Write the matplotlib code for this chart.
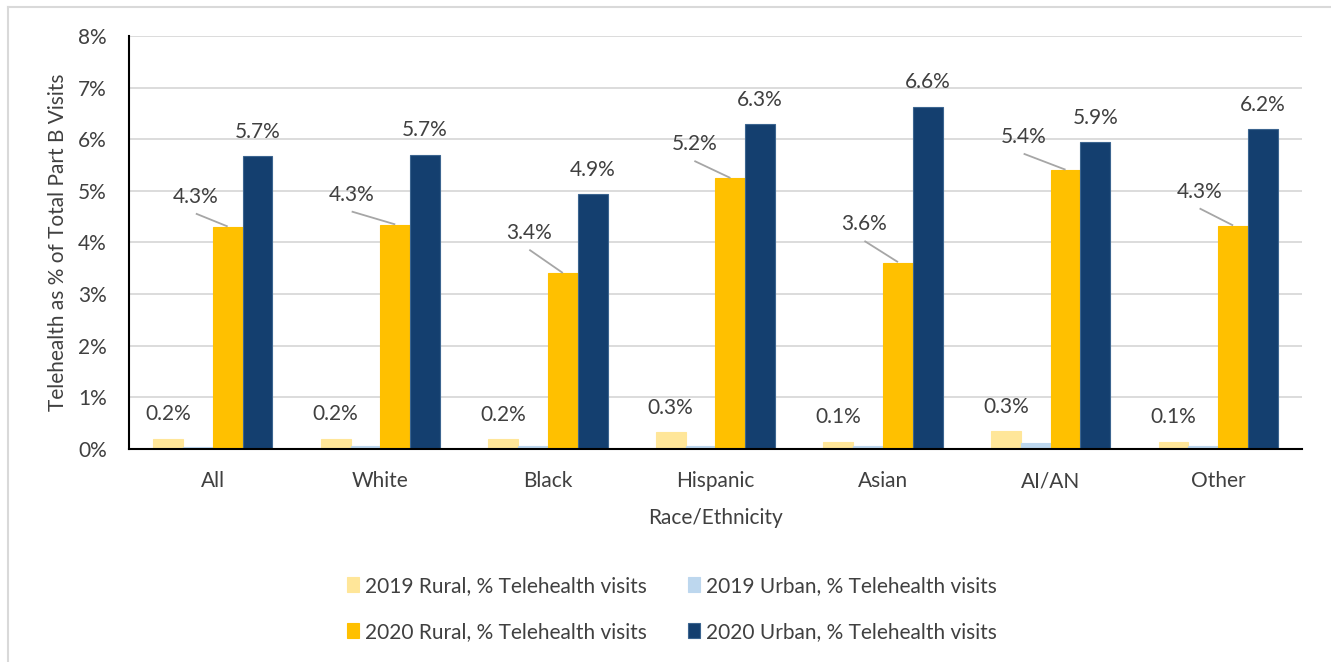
import numpy as np
import matplotlib.pyplot as plt

# datos
categorias = ['All', 'White', 'Black', 'Hispanic', 'Asian', 'AI/AN', 'Other']
rural_2019 = [0.20, 0.20, 0.19, 0.33, 0.14, 0.34, 0.14]
urbano_2019 = [0.04, 0.05, 0.06, 0.06, 0.05, 0.11, 0.05]
rural_2020 = [4.30, 4.34, 3.40, 5.24, 3.61, 5.40, 4.32]
urbano_2020 = [5.67, 5.70, 4.93, 6.29, 6.63, 5.94, 6.20]
series = ['2019 Rural, % Telehealth visits', '2019 Urban, % Telehealth visits',
          '2020 Rural, % Telehealth visits', '2020 Urban, % Telehealth visits']
colores = ['#FFE699', '#BDD7EE', '#FFC000', '#143F6F']

plt.rcParams['font.family'] = ['Lato', 'DejaVu Sans']
gris = '#404040'
fs = 15

fig = plt.figure(figsize=(13.31, 6.62), dpi=100)
ax = fig.add_axes([0.0969, 0.3218, 0.8813, 0.6238])

x = np.arange(len(categorias))
ancho = 0.178
datos = [rural_2019, urbano_2019, rural_2020, urbano_2020]
barras = []
for i, (vals, col) in enumerate(zip(datos, colores)):
    borde = '#3c6590' if i == 3 else col
    b = ax.bar(x + (i - 1.5) * ancho, vals, ancho, color=col, edgecolor=borde,
               linewidth=0.8, label=series[i], zorder=3)
    barras.append(b)

# etiquetas 2019 rural
for xi, v in zip(x, rural_2019):
    ax.text(xi - 1.5 * ancho, v + 0.47, f'{v:.1f}%', ha='center', va='center',
            fontsize=fs, color=gris)

# etiquetas 2020 rural, desplazadas con linea guia
dx_et = [-0.19, -0.26, -0.20, -0.215, -0.20, -0.25, -0.20]
dy_et = [0.58, 0.58, 0.78, 0.66, 0.74, 0.64, 0.66]
for xi, v, dx, dy in zip(x, rural_2020, dx_et, dy_et):
    bx = xi + 0.5 * ancho
    tx, ty = bx + dx, v + dy
    ax.text(tx, ty, f'{v:.1f}%', ha='center', va='center', fontsize=fs, color=gris, zorder=5)
    ax.plot([tx, bx], [ty - 0.32, v + 0.01], color='#a6a6a6', lw=1.3, zorder=4,
            solid_capstyle='butt')

# etiquetas 2020 urbano
for xi, v in zip(x, urbano_2020):
    ax.text(xi + 1.5 * ancho, v + 0.47, f'{v:.1f}%', ha='center', va='center',
            fontsize=fs, color=gris)

ax.set_ylim(0, 8)
ax.set_xlim(-0.5, len(categorias) - 0.5)
ax.set_yticks(range(0, 9))
ax.set_yticklabels([f'{t}%' for t in range(0, 9)])
ax.set_xticks(x)
ax.set_xticklabels(categorias)
ax.tick_params(axis='x', labelsize=fs, colors=gris, length=0, pad=16)
ax.tick_params(axis='y', labelsize=fs, colors=gris, length=0, pad=16)
ax.grid(axis='y', color='#d9d9d9', lw=1.3, zorder=0)
for s in ['top', 'right']:
    ax.spines[s].set_visible(False)
for s in ['left', 'bottom']:
    ax.spines[s].set_color('black')
    ax.spines[s].set_linewidth(1.5)
    ax.spines[s].set_zorder(6)

ax.set_xlabel('Race/Ethnicity', fontsize=fs, color=gris, labelpad=12)
ax.set_ylabel('Telehealth as % of Total Part B Visits', fontsize=fs, color=gris, labelpad=7)

# orden de leyenda: filas 2019 / 2020
orden = [0, 2, 1, 3]
fig.legend(handles=[barras[k] for k in orden], labels=[series[k] for k in orden],
           loc='center', bbox_to_anchor=(0.505, 0.0805), ncol=2, frameon=False,
           fontsize=fs, labelcolor=gris, handlelength=0.55, handleheight=0.75,
           handletextpad=0.3, columnspacing=2.0, labelspacing=1.25)

# borde exterior (izquierda y arriba)
fig.add_artist(plt.Line2D([0.006, 0.006], [0.0, 0.99], transform=fig.transFigure,
                          color='#d9d9d9', lw=1.5))
fig.add_artist(plt.Line2D([0.006, 1.0], [0.99, 0.99], transform=fig.transFigure,
                          color='#d9d9d9', lw=1.5))

plt.savefig('out.png', dpi=100)
